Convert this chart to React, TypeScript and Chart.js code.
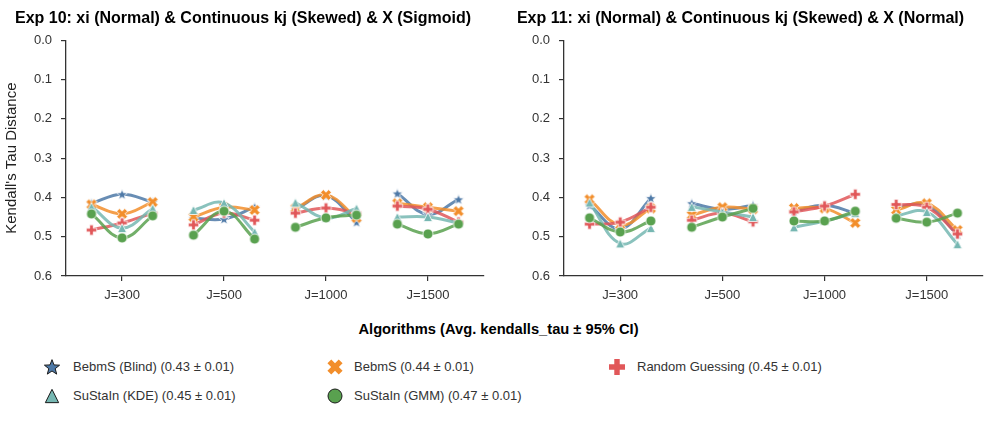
import React, { useEffect, useRef, useMemo } from 'react';
import { Chart, registerables } from 'chart.js';

Chart.register(...registerables);

const FONT = "'Liberation Sans', Arial, Helvetica, sans-serif";

const categories = ['J=300', 'J=500', 'J=1000', 'J=1500'];
const subOffsets = [-0.3, 0, 0.3];

const seriesLabels = [
  'BebmS (Blind) (0.43 ± 0.01)',
  'BebmS (0.44 ± 0.01)',
  'Random Guessing (0.45 ± 0.01)',
  'SuStaIn (KDE) (0.45 ± 0.01)',
  'SuStaIn (GMM) (0.47 ± 0.01)',
];
const seriesColors = ['#4e79a7', '#f28e2b', '#e15759', '#76b7b2', '#59a14f'];
const seriesLineColors = [
  'rgba(78,121,167,0.85)',
  'rgba(242,142,43,0.85)',
  'rgba(225,87,89,0.85)',
  'rgba(118,183,178,0.85)',
  'rgba(89,161,79,0.85)',
];
const seriesShapes = ['star', 'x', 'plus', 'triangle', 'circle'];

// Exp 10 values (3 sub-points per J category)
const exp10Blind = [0.415, 0.392, 0.412, 0.453, 0.455, 0.425, 0.43, 0.396, 0.463, 0.39, 0.443, 0.405];
const exp10Bebms = [0.418, 0.442, 0.412, 0.45, 0.425, 0.432, 0.428, 0.394, 0.452, 0.415, 0.425, 0.435];
const exp10Random = [0.483, 0.465, 0.44, 0.47, 0.44, 0.458, 0.44, 0.427, 0.44, 0.422, 0.43, 0.463];
const exp10Kde = [0.424, 0.478, 0.428, 0.432, 0.414, 0.488, 0.413, 0.452, 0.428, 0.45, 0.45, 0.465];
const exp10Gmm = [0.442, 0.503, 0.447, 0.496, 0.435, 0.506, 0.476, 0.452, 0.445, 0.468, 0.493, 0.468];

// Exp 11 values
const exp11Blind = [0.42, 0.48, 0.402, 0.415, 0.43, 0.42, 0.435, 0.42, 0.44, 0.425, 0.42, 0.495];
const exp11Bebms = [0.405, 0.47, 0.428, 0.445, 0.425, 0.43, 0.427, 0.428, 0.465, 0.432, 0.415, 0.483];
const exp11Random = [0.468, 0.463, 0.425, 0.458, 0.44, 0.462, 0.437, 0.422, 0.392, 0.418, 0.425, 0.493];
const exp11Kde = [0.413, 0.517, 0.478, 0.424, 0.437, 0.45, 0.476, 0.46, 0.44, 0.447, 0.437, 0.519];
const exp11Gmm = [0.452, 0.488, 0.46, 0.476, 0.45, 0.428, 0.46, 0.46, 0.435, 0.453, 0.463, 0.44];

const exp10 = [exp10Blind, exp10Bebms, exp10Random, exp10Kde, exp10Gmm];
const exp11 = [exp11Blind, exp11Bebms, exp11Random, exp11Kde, exp11Gmm];

const title10 = 'Exp 10: xi (Normal) & Continuous kj (Skewed) & X (Sigmoid)';
const title11 = 'Exp 11: xi (Normal) & Continuous kj (Skewed) & X (Normal)';
const yTitle = "Kendall's Tau Distance";
const xTitle = 'Algorithms (Avg. kendalls_tau ± 95% CI)';

function makeMarker(shape: string, fill: string, edge: string, edgeW: number, size: number) {
  const pad = 2;
  const dim = Math.ceil(size + pad * 2);
  const c = document.createElement('canvas');
  c.width = dim;
  c.height = dim;
  const ctx = c.getContext('2d')!;
  const cx = dim / 2;
  const cy = dim / 2;
  const r = size / 2;
  ctx.beginPath();
  if (shape === 'circle') {
    ctx.arc(cx, cy, r, 0, Math.PI * 2);
  } else if (shape === 'star') {
    for (let i = 0; i < 10; i++) {
      const a = -Math.PI / 2 + (i * Math.PI) / 5;
      const rr = i % 2 === 0 ? r : r * 0.42;
      const px = cx + rr * Math.cos(a);
      const py = cy + rr * Math.sin(a) + r * 0.08;
      if (i === 0) ctx.moveTo(px, py);
      else ctx.lineTo(px, py);
    }
  } else if (shape === 'triangle') {
    const h = r * 0.95;
    ctx.moveTo(cx, cy - h);
    ctx.lineTo(cx + h, cy + h);
    ctx.lineTo(cx - h, cy + h);
  } else {
    const t = r * 0.34;
    const pts = [
      [-t, -r], [t, -r], [t, -t], [r, -t], [r, t], [t, t],
      [t, r], [-t, r], [-t, t], [-r, t], [-r, -t], [-t, -t],
    ];
    const rot = shape === 'x' ? Math.PI / 4 : 0;
    pts.forEach(([px, py], i) => {
      const x = px * Math.cos(rot) - py * Math.sin(rot) + cx;
      const y = px * Math.sin(rot) + py * Math.cos(rot) + cy;
      if (i === 0) ctx.moveTo(x, y);
      else ctx.lineTo(x, y);
    });
  }
  ctx.closePath();
  ctx.fillStyle = fill;
  ctx.fill();
  if (edgeW > 0) {
    ctx.lineWidth = edgeW;
    ctx.strokeStyle = edge;
    ctx.lineJoin = 'miter';
    ctx.stroke();
  }
  return c;
}

const dataMarkerSizes: Record<string, number> = { star: 11.5, x: 11.5, plus: 10.5, triangle: 9.5, circle: 10 };
const legendMarkerSizes: Record<string, number> = { star: 16, x: 16, plus: 16, triangle: 14, circle: 14 };

function toPoints(vals: number[]) {
  const pts: { x: number; y: number | null }[] = [];
  categories.forEach((_, ci) => {
    subOffsets.forEach((o, si) => pts.push({ x: ci + o, y: vals[ci * 3 + si] }));
    if (ci < categories.length - 1) pts.push({ x: ci + 0.5, y: null });
  });
  return pts;
}

function buildConfig(values: number[][], title: string, showYTitle: boolean, padRight: number): any {
  const datasets = values.map((vals, i) => ({
    label: seriesLabels[i],
    data: toPoints(vals),
    borderColor: seriesLineColors[i],
    backgroundColor: seriesColors[i],
    borderWidth: 3,
    tension: 0.4,
    spanGaps: false,
    fill: false,
    pointStyle: makeMarker(seriesShapes[i], seriesColors[i], '#ffffff', 0.8, dataMarkerSizes[seriesShapes[i]]),
    pointRadius: 5,
    order: 5 - i,
  }));
  const tickFont = { family: FONT, size: 13 };
  return {
    type: 'line',
    data: { datasets },
    options: {
      animation: false,
      responsive: false,
      maintainAspectRatio: false,
      events: [],
      layout: { padding: { left: 0, right: padRight, top: 0, bottom: 0 } },
      plugins: {
        legend: { display: false },
        tooltip: { enabled: false },
        title: {
          display: true,
          text: title,
          color: '#000',
          font: { family: FONT, size: 16, weight: 'bold' },
          padding: { top: 9, bottom: 12 },
        },
      },
      scales: {
        x: {
          type: 'linear',
          min: -0.55,
          max: 3.55,
          afterBuildTicks: (s: any) => {
            s.ticks = categories.map((_, i) => ({ value: i }));
          },
          afterFit: (s: any) => {
            s.height = 34;
          },
          ticks: {
            callback: (v: any) => categories[Math.round(Number(v))] ?? '',
            font: tickFont,
            color: '#333',
            padding: 7,
            maxRotation: 0,
            autoSkip: false,
          },
          grid: { drawOnChartArea: false, drawTicks: true, tickLength: 5, color: '#333', lineWidth: 1.2 },
          border: { display: true, color: '#333', width: 1.3 },
        },
        y: {
          type: 'linear',
          reverse: true,
          min: 0,
          max: 0.6,
          afterFit: (s: any) => {
            s.width = 66;
          },
          ticks: {
            stepSize: 0.1,
            callback: (v: any) => Number(v).toFixed(1),
            font: tickFont,
            color: '#333',
            padding: 9,
          },
          grid: { drawOnChartArea: false, drawTicks: true, tickLength: 5, color: '#333', lineWidth: 1.2 },
          border: { display: true, color: '#333', width: 1.3 },
          title: {
            display: showYTitle,
            text: yTitle,
            color: '#222',
            font: { family: FONT, size: 15 },
            padding: { top: 3, bottom: 0 },
          },
        },
      },
    },
  };
}

function Panel(props: { values: number[][]; title: string; showYTitle: boolean; left: number; width: number; padRight: number }) {
  const ref = useRef<HTMLCanvasElement | null>(null);
  useEffect(() => {
    if (!ref.current) return;
    const chart = new Chart(ref.current, buildConfig(props.values, props.title, props.showYTitle, props.padRight));
    return () => chart.destroy();
  }, []);
  return (
    <canvas
      ref={ref}
      width={props.width}
      height={310}
      style={{ position: 'absolute', left: props.left, top: 0, width: props.width, height: 310 }}
    />
  );
}

const legendPositions = [
  { cx: 52, cy: 367, tx: 73 },
  { cx: 335, cy: 367, tx: 354 },
  { cx: 617, cy: 367, tx: 637 },
  { cx: 52, cy: 396, tx: 73 },
  { cx: 335, cy: 396, tx: 354 },
];

export default function App() {
  const legendImgs = useMemo(
    () =>
      seriesShapes.map((sh, i) => {
        const edged = sh === 'star' || sh === 'triangle' || sh === 'circle';
        const c = makeMarker(sh, seriesColors[i], '#1a1a1a', edged ? 1 : 0, legendMarkerSizes[sh]);
        return { url: c.toDataURL(), w: c.width, h: c.height };
      }),
    []
  );
  return (
    <div style={{ position: 'fixed', left: 0, top: 0, width: 997, height: 446, background: '#fff', overflow: 'hidden' }}>
      <Panel values={exp10} title={title10} showYTitle={true} left={0} width={492} padRight={6} />
      <Panel values={exp11} title={title11} showYTitle={false} left={498} width={497} padRight={12} />
      <div
        style={{
          position: 'absolute',
          left: 0,
          width: 997,
          top: 320,
          textAlign: 'center',
          fontFamily: FONT,
          fontWeight: 'bold',
          fontSize: 14.7,
          lineHeight: '18px',
          color: '#000',
        }}
      >
        {xTitle}
      </div>
      {seriesLabels.map((lab, i) => {
        const p = legendPositions[i];
        const img = legendImgs[i];
        return (
          <React.Fragment key={lab}>
            <img
              src={img.url}
              width={img.w}
              height={img.h}
              style={{ position: 'absolute', left: p.cx - img.w / 2, top: p.cy - img.h / 2 }}
            />
            <div
              style={{
                position: 'absolute',
                left: p.tx,
                top: p.cy - 9,
                height: 18,
                lineHeight: '18px',
                fontFamily: FONT,
                fontSize: 13,
                color: '#333',
                whiteSpace: 'nowrap',
              }}
            >
              {lab}
            </div>
          </React.Fragment>
        );
      })}
    </div>
  );
}
